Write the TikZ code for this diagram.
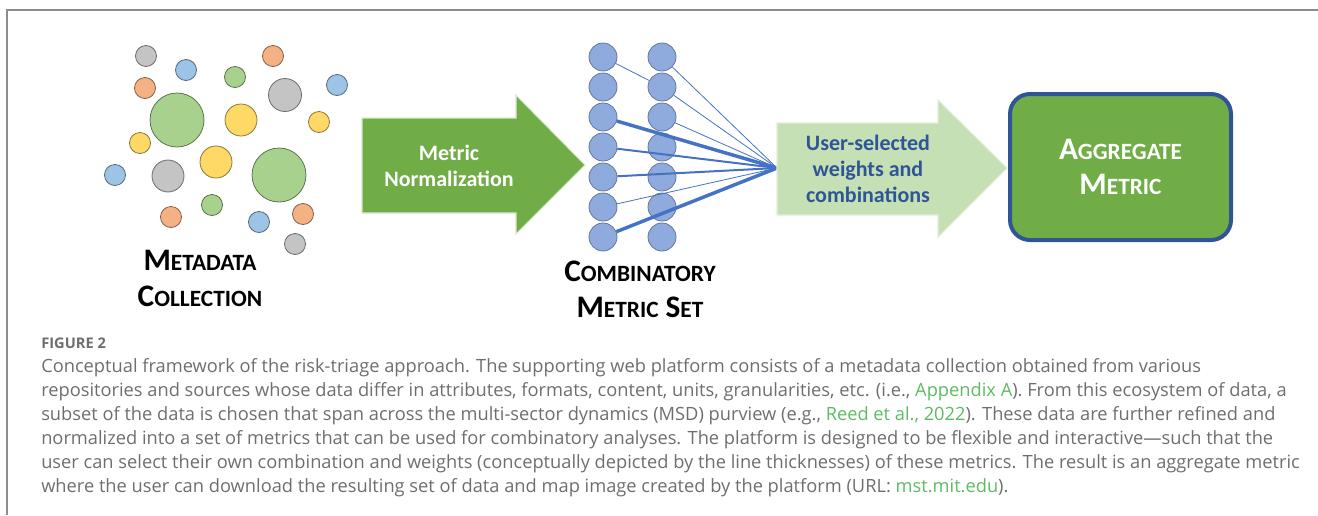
\documentclass[tikz,border=0pt]{standalone}
\usepackage{fontspec}
\setmainfont{Carlito}
\newfontfamily\captionfont{Open Sans}
\usetikzlibrary{positioning}

\definecolor{accgreen}{HTML}{70AD47}
\definecolor{palegreen}{HTML}{C5E0B4}
\definecolor{darkblue}{HTML}{2F5597}
\definecolor{wireblue}{HTML}{4472C4}
\definecolor{cellblue}{HTML}{8FAADC}
\definecolor{framegray}{HTML}{8C8C8C}
\definecolor{captiongray}{HTML}{6E6E6E}
\definecolor{linkgreen}{HTML}{5DBB63}
\definecolor{bgray}{HTML}{C4C4C4}
\definecolor{bblue}{HTML}{9DC3E6}
\definecolor{borange}{HTML}{F4B183}
\definecolor{bgreen}{HTML}{A9D18E}
\definecolor{byellow}{HTML}{FFD966}

% fake small caps: big initial, smaller rest
\newcommand{\smc}[2]{{\fontsize{23.5}{27}\selectfont #1}{\fontsize{17.5}{27}\selectfont #2}}
\newcommand{\lnk}[1]{\textcolor{linkgreen}{#1}}

\begin{document}
\begin{tikzpicture}[x=0.75pt,y=-0.75pt]
    \tikzstyle{bubble}=[circle,inner sep=0pt,line width=0.6pt]
    \tikzstyle{cell}=[circle,fill=cellblue,draw=cellblue!70!black,line width=0.6pt,minimum size=21pt,inner sep=0pt]
    \tikzstyle{title}=[align=center,font=\fontsize{23.5}{27}\selectfont\bfseries,text=black]
    \tikzstyle{arrowtext}=[align=center,font=\fontsize{16.5}{19.5}\selectfont\bfseries]
    \tikzstyle{wthin}=[draw=wireblue,line width=0.6pt]
    \tikzstyle{wmid}=[draw=wireblue,line width=1.5pt]
    \tikzstyle{wthick}=[draw=wireblue,line width=2.6pt]
    \tikzstyle{aggbox}=[rounded corners=15pt,fill=accgreen,draw=darkblue,line width=3pt,minimum width=165.75pt,minimum height=109.5pt,align=center,text=white,font=\fontsize{23.5}{26}\selectfont\bfseries]

\useasboundingbox (0,0) rectangle (1318,515);

% Cadre
\draw[framegray,line width=1.5pt] (7,515) -- (7,10) -- (1318,10);

% Metadata bubbles
\foreach \bx/\by/\br/\bc [count=\i] in {146/56/10.5/bgray, 186/70/10.5/bblue, 145/88/10.5/borange,
    235/77/10.5/bgreen, 273/56/10.5/borange, 285/95/16.5/bgray, 337/85/10.5/bblue,
    177/120/27/bgreen, 241/120/16/byellow, 319/122/10.5/byellow, 140/143/10.5/byellow,
    168/176/16/bgray, 216/162/16/byellow, 279/175/27/bgreen, 115/175/10.5/bblue,
    212/205/10.5/bgreen, 171/217/10.5/borange, 259/222/10.5/bblue, 303/214/10.5/borange,
    295/244/10.5/bgray}
  \node[bubble,fill=\bc,draw=\bc!55!black,minimum size={1.5pt*\br}] (B-\i) at (\bx,\by) {};

\node[title] (meta) at (200,278) {\smc{M}{ETADATA}\\\smc{C}{OLLECTION}};

% Normalization arrow
\filldraw[fill=accgreen,draw=accgreen!25,line width=0.8pt]
  (362,118) -- (516,118) -- (516,95) -- (585,165) -- (516,234) -- (516,213) -- (362,213) -- cycle;
\node[arrowtext,text=white] (norm) at (449,166) {Metric\\Normalization};

% Metric set, two columns
\foreach \j in {1,...,7} {
  \node[cell] (L-\j) at (603,27+30*\j) {};
  \node[cell] (R-\j) at (662,27+30*\j) {};
}
\coordinate (T) at (777,168);

% Weights (line thickness)
\path[wthin] (R-1) edge (T);
\path[wthin] (L-1) edge (R-2);
\path[wthin] (R-2) edge (T);
\path[wthin] (R-3) edge (T);
\path[wthick] (L-3) edge (T);
\path[wmid] (L-4) edge (T);
\path[wmid] (L-5) edge (T);
\path[wthin] (L-6) edge (T);
\path[wthick] (L-7) edge (T);

\node[title] (cms) at (640,289) {\smc{C}{OMBINATORY}\\\smc{M}{ETRIC} \smc{S}{ET}};

% Selection arrow
\filldraw[fill=palegreen,draw=palegreen!50,line width=0.8pt]
  (777,123) -- (938,123) -- (938,100) -- (1007,168) -- (938,237) -- (938,215) -- (777,215) -- cycle;
\node[arrowtext,text=darkblue] (sel) at (868,169) {User-selected\\weights and\\combinations};

% Aggregate
\node[aggbox] (agg) at (1120.5,167) {\smc{A}{GGREGATE}\\\smc{M}{ETRIC}};

% Legende
\node[anchor=base west,inner sep=0pt,text=captiongray,font=\captionfont\fontsize{11}{12}\selectfont\bfseries] (fig) at (41,348) {FIGURE 2};
\node[anchor=north west,inner sep=0pt,text=captiongray,align=left,font=\captionfont\fontsize{13.7}{18}\selectfont] (cap) at (41,358)
 {Conceptual framework of the risk-triage approach. The supporting web platform consists of a metadata collection obtained from various\\
  repositories and sources whose data differ in attributes, formats, content, units, granularities, etc. (i.e., \lnk{Appendix A}). From this ecosystem of data, a\\
  subset of the data is chosen that span across the multi-sector dynamics (MSD) purview (e.g., \lnk{Reed et al., 2022}). These data are further refined and\\
  normalized into a set of metrics that can be used for combinatory analyses. The platform is designed to be flexible and interactive\textemdash such that the\\
  user can select their own combination and weights (conceptually depicted by the line thicknesses) of these metrics. The result is an aggregate metric\\
  where the user can download the resulting set of data and map image created by the platform (URL: \lnk{mst.mit.edu}).};

\end{tikzpicture}
\end{document}
